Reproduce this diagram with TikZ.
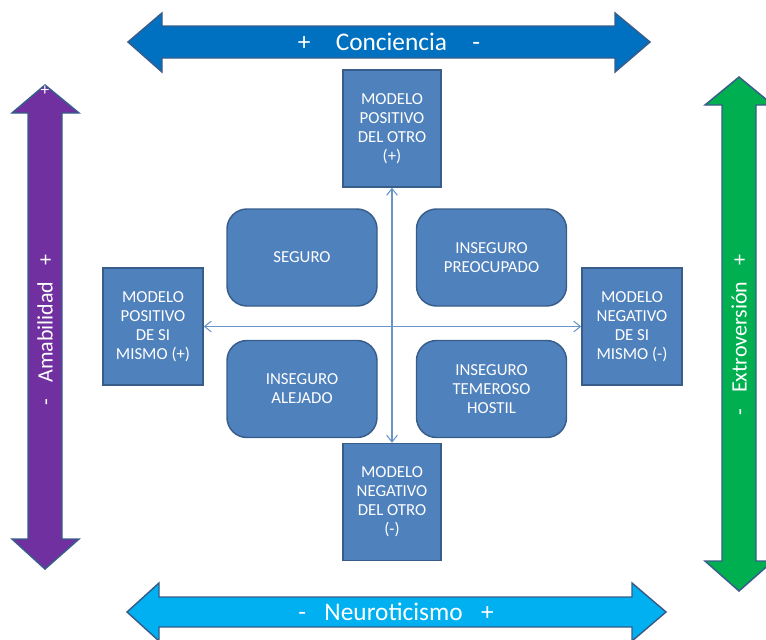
\documentclass[tikz,border=0pt]{standalone}
\usepackage{fontspec}
\setmainfont{Carlito}
\usetikzlibrary{arrows.meta}

\definecolor{boxfill}{HTML}{4F81BD}
\definecolor{boxline}{HTML}{385D8A}
\definecolor{concblue}{HTML}{0070C0}
\definecolor{neurocyan}{HTML}{00B0F0}
\definecolor{amabpurple}{HTML}{7030A0}
\definecolor{extrogreen}{HTML}{00B050}

\begin{document}
\begin{tikzpicture}[x=0.75pt, y=-0.75pt,
        modelo/.style={draw=boxline, fill=boxfill, line width=1.1pt, text=white, align=center, inner sep=2pt, font=\fontsize{12.6}{14.25}\selectfont, minimum width=73.5pt, minimum height=87.75pt},
        estilo/.style={modelo, rounded corners=15pt, minimum width=112.5pt, minimum height=72.75pt},
        bigarrow/.style={draw=boxline, line width=1.1pt, line join=miter},
        axis/.style={text=white, font=\fontsize{19}{22}\selectfont},
        vaxis/.style={axis, rotate=90, font=\fontsize{16.5}{20}\selectfont},
        cruz/.style={{Straight Barb[length=5pt, width=8pt]}-{Straight Barb[length=5pt, width=8pt]}, draw=boxfill!85!white, line width=0.8pt}
    ]
        \useasboundingbox (0,0) rectangle (766,639);

        % big axis arrows
        \draw[bigarrow, fill=concblue] (128,42) -- (162,13) -- (162,26) -- (615,26) -- (615,13) -- (650,42) -- (615,72) -- (615,58) -- (162,58) -- (162,72) -- cycle;
        \draw[bigarrow, fill=neurocyan] (127,612) -- (159,583) -- (159,597) -- (632,597) -- (632,583) -- (666,612) -- (632,641) -- (632,627) -- (159,627) -- (159,641) -- cycle;
        \draw[bigarrow, fill=amabpurple] (45,85) -- (79,113) -- (62,113) -- (62,539) -- (79,539) -- (45,569) -- (12,539) -- (28,539) -- (28,113) -- (12,113) -- cycle;
        \draw[bigarrow, fill=extrogreen] (739,77) -- (773,105) -- (756,105) -- (756,561) -- (773,561) -- (739,591) -- (705,561) -- (722,561) -- (722,105) -- (705,105) -- cycle;

        \node[axis] (conciencia) at (389,42) {+\quad Conciencia\quad -};
        \node[axis] (neuro) at (396,612) {-\enskip\ Neuroticismo\enskip\ +};
        \node[vaxis] (amab) at (45,330) {-\enskip\ Amabilidad\enskip\ +};
        \node[vaxis] (extro) at (739,335) {-\enskip\ Extroversión\enskip\ +};
        \node[text=white, font=\fontsize{13}{14}\selectfont] (amabtip) at (45,91) {+};

        % modelos
        \node[modelo] (otropos) at (392,128.5) {MODELO\\POSITIVO\\DEL OTRO\\(+)};
        \node[modelo] (otroneg) at (392,502) {MODELO\\NEGATIVO\\DEL OTRO\\(-)};
        \node[modelo, minimum width=75pt] (mismopos) at (153,326.5) {MODELO\\POSITIVO\\DE SI\\MISMO (+)};
        \node[modelo, minimum width=75pt] (mismoneg) at (632,326.5) {MODELO\\NEGATIVO\\DE SI\\MISMO (-)};

        % estilos de apego
        \node[estilo] (seguro) at (302,257.5) {SEGURO};
        \node[estilo] (preocupado) at (491.5,257.5) {INSEGURO\\PREOCUPADO};
        \node[estilo] (alejado) at (302,389) {INSEGURO\\ALEJADO};
        \node[estilo] (hostil) at (491.5,389) {INSEGURO\\TEMEROSO\\HOSTIL};

        \draw[cruz] (otroneg.north) -- (otropos.south);
        \draw[cruz] (mismopos.east) -- (mismoneg.west);
    \end{tikzpicture}
\end{document}
